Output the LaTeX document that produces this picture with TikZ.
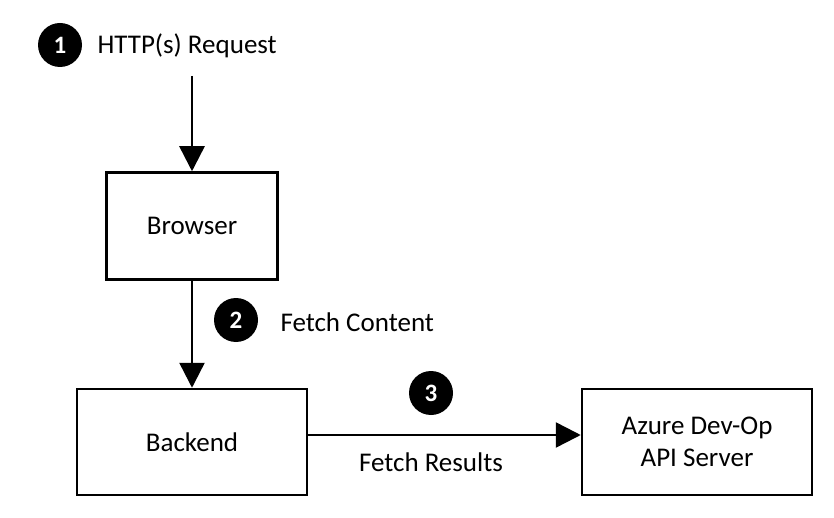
\documentclass[tikz,border=0pt]{standalone}
\usepackage{fontspec}
\setmainfont{Carlito}
\usetikzlibrary{arrows.meta}
\begin{document}
\begin{tikzpicture}[x=1pt,y=-1pt,
  every node/.style={font=\fontsize{27}{32}\selectfont},
  box/.style={draw,line width=2.5pt,minimum width=230pt,minimum height=106pt,align=center},
  badge/.style={circle,fill=black,text=white,minimum size=44pt,inner sep=0pt,font=\fontsize{25}{28}\selectfont\bfseries},
  arr/.style={line width=2.5pt,-{Triangle[width=25pt,length=25pt]}}]
\useasboundingbox (0,0) rectangle (834,518);

% Step 1: request
\node[badge] (b1) at (60,45) {1};
\node[anchor=west] (req) at (94,46) {HTTP(s) Request};
\coordinate (in) at (192,76);

% Boxes
\node[box,minimum width=171pt,minimum height=107pt] (browser) at (192,226) {Browser};
\node[box] (backend) at (192,442) {Backend};
\node[box] (azure) at (697,442) {Azure Dev-Op\\API Server};

% Step 2: fetch content
\node[badge] (b2) at (236,320) {2};
\node[anchor=west] (fc) at (277,322) {Fetch Content};

% Step 3: fetch results
\node[badge] (b3) at (431,393) {3};
\node (fr) at (431,462) {Fetch Results};

% Arrows
\draw[arr] (in) -- (browser.north);
\draw[arr] (browser.south) -- (backend.north);
\draw[arr] ([yshift=7pt]backend.east) -- ([yshift=7pt]azure.west);
\end{tikzpicture}
\end{document}
